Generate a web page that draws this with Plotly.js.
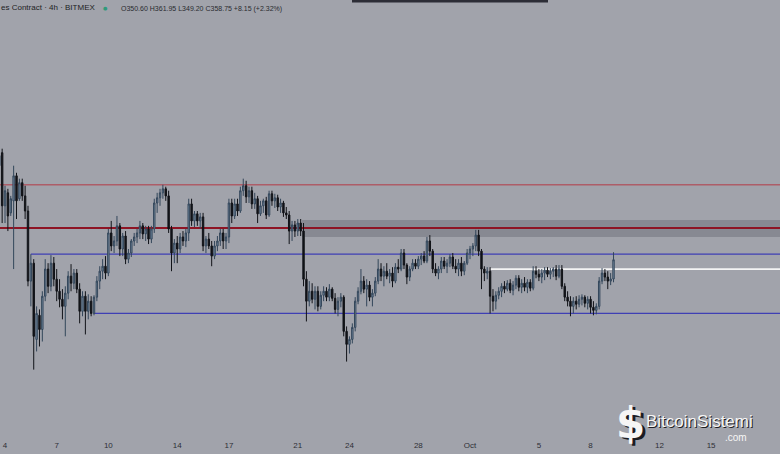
<!DOCTYPE html>
<html>
<head>
<meta charset="utf-8">
<script src="https://cdn.plot.ly/plotly-3.0.1.min.js"></script>
<style>
html,body{margin:0;padding:0;background:#a1a3ab;}
#chart{width:780px;height:454px;}
</style>
</head>
<body>
<div id="chart"></div>
<script>
// 4h candles, first candle 2020-09-03 16:00, one candle every 4 hours
const startTime = '2020-09-03T16:00:00Z';
const stepHours = 4;

const openP = [
  398.6,404.1,
  381.6,387.1,378.6,383.7,394.3,384.6,
  391.4,385.8,379.4,349.7,357.3,325.0,
  335.2,329.2,343.3,354.8,347.5,357.3,
  350.5,345.4,342.0,339.0,344.6,351.8,
  348.8,353.1,346.3,336.9,343.3,336.9,
  341.2,336.0,342.9,349.7,353.9,356.0,
  353.1,370.1,364.6,366.7,373.1,363.3,
  368.8,359.0,361.6,366.7,368.4,370.1,
  373.1,369.7,371.8,367.5,371.8,382.8,
  385.0,387.1,388.8,385.8,371.8,361.6,
  365.8,363.3,368.4,366.7,370.1,382.4,
  375.2,378.2,375.2,376.9,364.6,367.5,
  364.6,360.3,364.6,366.7,370.1,366.7,
  368.4,382.8,377.3,382.4,379.4,388.0,
  390.1,385.4,388.0,382.4,384.6,378.2,
  381.6,383.7,377.7,386.7,383.7,385.0,
  381.1,382.8,378.6,377.7,370.9,373.5,
  370.9,374.3,370.9,350.5,341.2,345.4,
  342.0,345.4,339.0,343.7,345.4,342.9,
  346.3,342.4,337.7,341.2,342.9,328.4,
  322.9,325.0,330.1,341.2,345.4,349.7,
  346.3,348.0,342.9,344.6,349.7,354.8,
  351.8,353.9,351.8,353.1,349.7,355.6,
  354.8,361.6,356.5,351.4,354.8,357.3,
  356.0,359.0,360.3,358.2,366.7,362.4,
  354.8,353.1,354.8,358.2,356.0,357.3,
  359.9,356.0,354.8,357.3,353.9,357.3,
  361.6,363.3,364.6,369.2,362.4,354.8,
  353.1,353.9,343.3,341.2,343.7,345.4,
  347.5,346.3,348.8,345.8,348.0,350.9,
  347.1,348.8,347.1,349.2,346.7,353.9,
  352.6,351.4,353.1,354.3,352.6,353.9,
  354.8,351.8,354.8,347.5,342.9,341.2,
  339.0,341.2,339.9,342.0,342.9,340.3,
  342.0,338.6,337.3,339.0,349.7,353.1,
  351.4,349.7,350.6
];
const highP = [
  405.0,405.8,
  390.1,388.8,385.8,398.6,395.6,393.1,
  393.1,390.1,381.6,361.1,359.0,339.0,
  337.7,345.4,359.0,357.3,360.7,359.9,
  354.8,350.5,346.3,347.5,353.9,356.9,
  354.8,354.8,348.8,345.4,345.4,344.1,
  343.3,343.7,351.8,356.0,359.0,360.3,
  371.8,375.2,368.8,377.3,374.3,370.1,
  370.9,363.3,367.5,370.1,371.8,375.2,
  374.3,373.1,373.1,373.1,384.6,387.1,
  388.8,390.5,389.7,388.0,373.1,367.5,
  368.8,370.1,370.9,371.8,384.6,384.6,
  379.4,379.4,378.6,378.6,368.8,370.1,
  366.7,366.7,368.8,371.8,371.8,370.1,
  384.6,384.6,384.6,384.6,389.7,393.1,
  392.2,389.7,389.7,387.1,385.8,383.7,
  384.6,385.4,388.0,388.0,386.7,386.3,
  384.6,383.7,381.1,379.4,375.2,375.2,
  376.0,376.0,374.3,353.9,349.7,348.8,
  347.5,347.5,345.4,347.5,347.1,348.4,
  347.1,344.6,342.9,344.6,343.7,330.5,
  326.3,331.8,342.9,347.1,354.8,351.8,
  350.5,349.7,346.3,351.4,359.0,357.3,
  356.0,357.3,354.8,355.6,357.3,359.0,
  363.3,363.3,357.3,356.0,359.0,359.0,
  360.3,361.6,362.4,368.4,369.2,363.3,
  357.3,356.0,359.9,359.9,359.0,361.1,
  361.6,359.0,359.0,359.9,358.2,363.3,
  364.6,365.8,371.4,371.4,363.3,356.0,
  355.6,355.6,346.3,345.4,347.1,348.8,
  349.7,350.1,350.5,349.7,352.2,352.2,
  350.5,351.4,350.5,350.5,356.0,356.0,
  354.8,354.8,355.6,355.6,355.2,355.6,
  356.5,356.5,356.5,348.8,345.4,343.3,
  342.9,343.3,343.7,344.1,343.7,343.3,
  343.3,341.2,340.3,351.4,355.2,354.8,
  353.9,353.1,361.95
];
const lowP = [
  397.3,374.3,
  374.3,370.9,377.3,354.8,376.0,383.7,
  383.7,376.0,347.5,339.0,312.2,319.9,
  322.0,324.1,341.2,344.6,345.4,347.5,
  341.2,338.6,333.5,326.3,342.0,345.4,
  346.3,344.6,331.8,334.8,327.1,333.5,
  334.8,335.2,341.2,346.3,350.5,350.5,
  351.8,362.4,361.6,364.6,360.3,360.3,
  356.9,357.3,359.9,364.6,365.8,367.5,
  367.5,366.7,365.4,365.8,370.1,378.6,
  381.6,384.6,383.7,370.1,353.9,357.3,
  357.3,361.6,364.6,364.1,366.7,373.1,
  372.6,373.1,371.8,362.4,361.6,363.3,
  356.0,359.0,362.4,364.6,363.3,363.3,
  365.8,374.3,376.0,377.3,378.6,385.8,
  382.8,382.8,380.3,380.3,374.3,377.3,
  378.6,376.0,376.9,381.6,380.7,379.4,
  378.6,376.9,376.0,365.4,366.7,368.4,
  368.8,368.8,347.5,332.6,339.0,340.3,
  337.7,336.9,337.7,341.2,341.2,341.2,
  341.2,336.0,334.8,338.6,326.3,315.6,
  319.0,323.3,328.4,339.9,344.1,344.6,
  339.0,341.2,339.0,343.3,348.4,349.7,
  347.5,350.5,348.8,347.1,348.8,353.1,
  353.9,354.8,348.4,349.7,353.9,354.8,
  354.8,356.5,357.3,357.3,360.3,353.1,
  351.8,350.5,353.1,354.8,353.1,355.6,
  354.8,353.1,351.8,351.8,352.2,356.5,
  359.0,360.3,362.4,360.3,346.3,349.7,
  350.5,336.0,336.9,337.7,342.0,342.9,
  344.6,345.4,344.6,343.7,346.3,345.4,
  344.6,345.4,344.6,345.4,345.8,350.9,
  349.7,348.8,350.1,351.4,350.5,351.4,
  350.1,350.9,346.3,341.2,339.0,334.8,
  336.0,337.7,338.6,339.4,338.6,337.7,
  336.0,335.2,335.6,337.7,348.4,349.7,
  346.3,348.0,349.2
];
const closeP = [
  402.9,381.6,
  388.0,377.3,384.6,394.3,383.7,391.4,
  385.8,379.4,349.7,357.3,326.3,336.0,
  329.2,343.3,354.8,347.5,357.3,350.5,
  345.4,342.0,339.0,344.6,351.8,348.8,
  353.1,346.3,336.9,343.3,336.9,341.2,
  336.0,342.9,349.7,353.9,356.0,353.1,
  370.1,364.6,366.7,373.1,363.3,368.8,
  359.0,361.6,366.7,368.4,370.1,373.1,
  369.7,371.8,367.5,371.8,382.8,385.0,
  387.1,388.8,385.8,371.8,361.6,365.8,
  363.3,368.4,366.7,370.1,382.4,375.2,
  378.2,375.2,376.9,364.6,367.5,364.6,
  360.3,364.6,366.7,370.1,366.7,368.4,
  382.8,377.3,382.4,379.4,388.0,390.1,
  385.4,388.0,382.4,384.6,378.2,381.6,
  383.7,377.7,386.7,383.7,385.0,381.1,
  382.8,378.6,377.7,370.9,373.5,370.9,
  374.3,370.9,350.5,341.2,345.4,342.0,
  345.4,339.0,343.7,345.4,342.9,346.3,
  342.4,337.7,341.2,342.9,328.4,322.9,
  325.0,330.1,341.2,345.4,349.7,346.3,
  348.0,342.9,344.6,349.7,354.8,351.8,
  353.9,351.8,353.1,349.7,355.6,354.8,
  361.6,356.5,351.4,354.8,357.3,356.0,
  359.0,360.3,358.2,366.7,362.4,354.8,
  353.1,354.8,358.2,356.0,357.3,359.9,
  356.0,354.8,357.3,353.9,357.3,361.6,
  363.3,364.6,369.2,362.4,354.8,353.1,
  353.9,343.3,341.2,343.7,345.4,347.5,
  346.3,348.8,345.8,348.0,350.9,347.1,
  348.8,347.1,349.2,346.7,353.9,352.6,
  351.4,353.1,354.3,352.6,353.9,354.8,
  351.8,354.8,347.5,342.9,341.2,339.0,
  341.2,339.9,342.0,342.9,340.3,342.0,
  338.6,337.3,339.0,349.7,353.1,351.4,
  349.7,350.6,358.75
];

// horizontal drawings: price level, start time
const levelNames  = ['upperRed', 'midRed', 'upperBlue', 'lowerBlue', 'white'];
const levelPrices = [390.5, 372.2, 361.1, 336.0, 354.8];
const levelStarts = ['2020-09-01 00:00', '2020-09-01 00:00', '2020-09-05 12:00', '2020-09-09 04:00', '2020-10-02 04:00'];
// supply zone box
const zonePrices = [368.4, 375.6];
const zoneStart = '2020-09-21 06:00';

const tickDates  = ['2020-09-04','2020-09-07','2020-09-10','2020-09-14','2020-09-17','2020-09-21','2020-09-24','2020-09-28','2020-10-01','2020-10-05','2020-10-08','2020-10-12','2020-10-15'];
const tickLabels = ['4','7','10','14','17','21','24','28','Oct','5','8','12','15'];
const edgeTickLabel = '19';

const headerTitle = 'es Contract · 4h · BITMEX';
const headerOHLC = 'O350.60 H361.95 L349.20 C358.75 +8.15 (+2.32%)';

// timestamps
const t0 = Date.parse(startTime);
const times = openP.map((_, i) => new Date(t0 + i * stepHours * 3600000).toISOString().slice(0,16).replace('T',' '));

const W = 780, H = 454, MB = 15, PH = H - MB;
const px = x => x / W;
const py = y => 1 - y / PH;

const farRight = '2020-10-25 00:00';
const lineStyles = {
  upperRed:  {color: 'rgba(178,70,82,0.75)', width: 1.5},
  midRed:    {color: '#8e1424', width: 2},
  upperBlue: {color: '#3f3fb4', width: 1.2},
  lowerBlue: {color: '#3f3fb4', width: 1.2},
  white:     {color: '#f4f4f4', width: 1.8}
};

const shapes = [
  {type:'rect', xref:'x', yref:'y', x0: zoneStart, x1: farRight, y0: zonePrices[0], y1: zonePrices[1],
   fillcolor:'rgba(95,95,105,0.38)', line:{width:0}, layer:'below'}
];
levelNames.forEach((n, k) => {
  shapes.push({type:'line', xref:'x', yref:'y', x0: levelStarts[k], x1: farRight, y0: levelPrices[k], y1: levelPrices[k],
    line: lineStyles[n], layer:'below'});
});
// dark bar at top centre
shapes.push({type:'rect', xref:'paper', yref:'paper', x0: px(352), x1: px(548), y0: py(2.5), y1: 1.01,
  fillcolor:'#2c2d36', line:{width:0}});

const annotations = [
  {xref:'paper', yref:'paper', x: px(-1), y: py(8), xanchor:'left', yanchor:'middle', showarrow:false,
   text: headerTitle, font:{family:'Liberation Sans, Arial', size:8, color:'#1e1f24'}},
  {xref:'paper', yref:'paper', x: px(106), y: py(8), xanchor:'center', yanchor:'middle', showarrow:false,
   text: '●', font:{family:'DejaVu Sans', size:5, color:'#2f9a7a'}},
  {xref:'paper', yref:'paper', x: px(119), y: py(8.5), xanchor:'left', yanchor:'middle', showarrow:false,
   text: headerOHLC, font:{family:'Liberation Sans, Arial', size:7, color:'#2a2b30'}},
  // watermark logo
  {xref:'paper', yref:'paper', x: px(633), y: py(425), xanchor:'center', yanchor:'middle', showarrow:false,
   text: '<b>$</b>', font:{family:'DejaVu Sans', size:42, color:'#1c1c22'}},
  {xref:'paper', yref:'paper', x: px(630), y: py(423), xanchor:'center', yanchor:'middle', showarrow:false,
   text: '<b>$</b>', font:{family:'DejaVu Sans', size:42, color:'#f6f6f6'}},
  {xref:'paper', yref:'paper', x: px(700), y: py(422), xanchor:'center', yanchor:'middle', showarrow:false,
   text: 'BitcoinSistemi', font:{family:'Liberation Sans, Arial', size:17, color:'#1c1c22'}},
  {xref:'paper', yref:'paper', x: px(699), y: py(421), xanchor:'center', yanchor:'middle', showarrow:false,
   text: 'BitcoinSistemi', font:{family:'Liberation Sans, Arial', size:17, color:'#f6f6f6'}},
  {xref:'paper', yref:'paper', x: px(749), y: py(437), xanchor:'right', yanchor:'middle', showarrow:false,
   text: '.com', font:{family:'Liberation Sans, Arial', size:10, color:'#f6f6f6'}},
  {xref:'paper', yref:'paper', x: px(784), y: py(447), xanchor:'center', yanchor:'middle', showarrow:false,
   text: edgeTickLabel, font:{family:'Liberation Sans, Arial', size:8, color:'#2e2f36'}}
];

const trace = {
  type:'candlestick',
  x: times, open: openP, high: highP, low: lowP, close: closeP,
  increasing: {line:{color:'#33465a', width:1}, fillcolor:'#7a90a6'},
  decreasing: {line:{color:'#111318', width:1}, fillcolor:'#111318'},
  whiskerwidth: 0,
  hoverinfo: 'skip',
  showlegend: false
};

const layout = {
  width: W, height: H,
  margin: {l:0, r:0, t:0, b:MB, pad:0},
  paper_bgcolor: '#a1a3ab',
  plot_bgcolor: '#a1a3ab',
  showlegend: false,
  xaxis: {
    type:'date',
    range: ['2020-09-03 17:00', '2020-10-19 00:00'],
    rangeslider: {visible:false},
    showgrid:false, zeroline:false, showline:false,
    tickmode:'array', tickvals: tickDates, ticktext: tickLabels,
    ticks:'', ticklen:0,
    tickfont: {family:'Liberation Sans, Arial', size:8, color:'#2e2f36'},
    fixedrange:true
  },
  yaxis: {
    range: [282.8, 468.8],
    showgrid:false, zeroline:false, showline:false,
    showticklabels:false, ticks:'',
    fixedrange:true
  },
  shapes: shapes,
  annotations: annotations
};

Plotly.newPlot('chart', [trace], layout, {staticPlot:true, displayModeBar:false});
</script>
</body>
</html>
